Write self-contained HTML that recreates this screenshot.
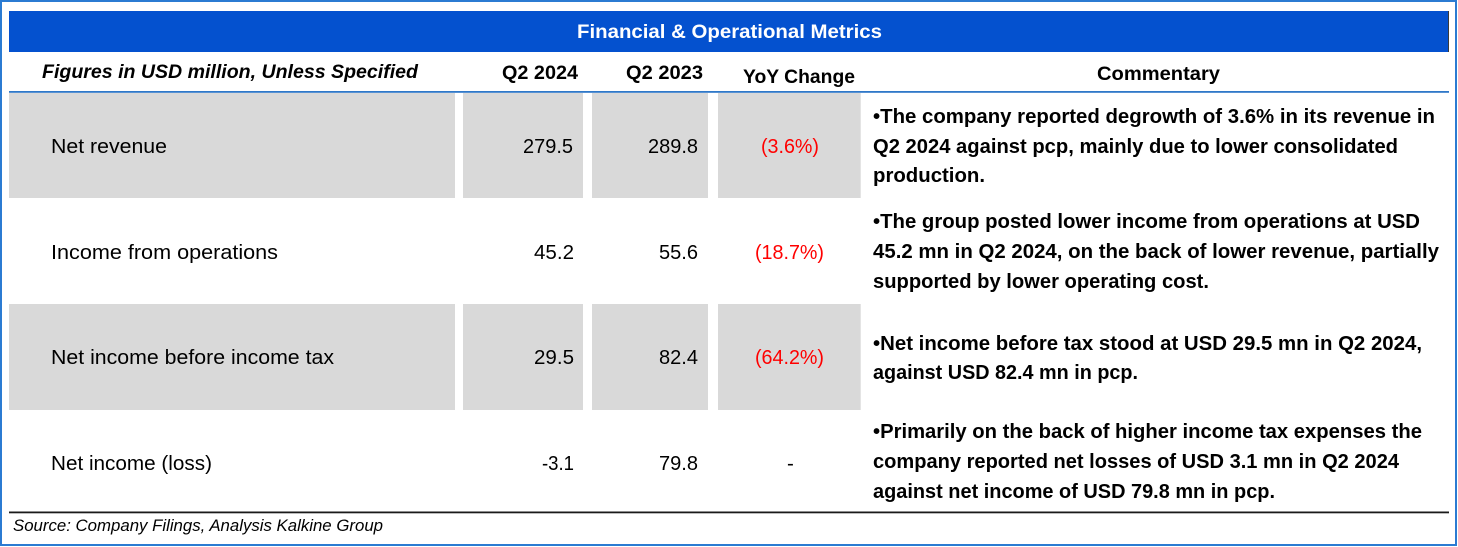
<!DOCTYPE html>
<html>
<head>
<meta charset="utf-8">
<style>
  html, body { margin:0; padding:0; background:#ffffff; }
  body { width:1458px; height:547px; overflow:hidden; }
  svg { display:block; }
  text { font-family: "Liberation Sans", sans-serif; }
  .lbl { font-size:20.5px; fill:#000; }
  .val { font-size:20.5px; fill:#000; }
  .red { font-size:20.5px; fill:#ff0000; }
  .hdr { font-size:19.5px; font-weight:bold; fill:#000; }
  .com { font-size:20px; font-weight:bold; fill:#000; }
</style>
</head>
<body>
<svg width="1458" height="547" viewBox="0 0 1458 547" xmlns="http://www.w3.org/2000/svg">
  <rect x="0" y="0" width="1458" height="547" fill="#ffffff"/>
  <!-- outer border -->
  <rect x="1" y="1" width="1455" height="544" fill="none" stroke="#2b7bd2" stroke-width="2"/>

  <!-- title bar -->
  <rect x="9" y="11" width="1440" height="41" fill="#0451cf"/>
  <rect x="1448" y="11" width="1" height="41" fill="#3a3a3a"/>
  <text x="577" y="38" textLength="305" lengthAdjust="spacingAndGlyphs" style="font-size:19.5px;font-weight:bold;fill:#ffffff;">Financial &amp; Operational Metrics</text>

  <!-- header row -->
  <text x="42" y="78" textLength="376" lengthAdjust="spacingAndGlyphs" style="font-size:19.5px;font-weight:bold;font-style:italic;fill:#000;">Figures in USD million, Unless Specified</text>
  <text class="hdr" x="502" y="79" textLength="76" lengthAdjust="spacingAndGlyphs">Q2 2024</text>
  <text class="hdr" x="626" y="79" textLength="77" lengthAdjust="spacingAndGlyphs">Q2 2023</text>
  <text class="hdr" x="743" y="83" textLength="112" lengthAdjust="spacingAndGlyphs">YoY Change</text>
  <text class="hdr" x="1097" y="80" textLength="123" lengthAdjust="spacingAndGlyphs">Commentary</text>

  <!-- header line -->
  <rect x="9" y="91" width="1440" height="1.8" fill="#2f78c8"/>

  <!-- gray rows -->
  <g fill="#d9d9d9">
    <rect x="9" y="93" width="446" height="105"/>
    <rect x="463" y="93" width="120" height="105"/>
    <rect x="592" y="93" width="116" height="105"/>
    <rect x="718" y="93" width="142" height="105"/>
    <rect x="9" y="304" width="446" height="106"/>
    <rect x="463" y="304" width="120" height="106"/>
    <rect x="592" y="304" width="116" height="106"/>
    <rect x="718" y="304" width="142" height="106"/>
  </g>
  <rect x="860" y="93" width="1" height="105" fill="#e4e4e4"/>
  <rect x="860" y="304" width="1" height="106" fill="#e4e4e4"/>

  <!-- row 1 -->
  <text class="lbl" x="51" y="153" textLength="116" lengthAdjust="spacingAndGlyphs">Net revenue</text>
  <text class="val" x="523" y="153" textLength="50" lengthAdjust="spacingAndGlyphs">279.5</text>
  <text class="val" x="648" y="153" textLength="50" lengthAdjust="spacingAndGlyphs">289.8</text>
  <text class="red" x="761" y="153" textLength="58" lengthAdjust="spacingAndGlyphs">(3.6%)</text>

  <!-- row 2 -->
  <text class="lbl" x="51" y="259" textLength="227" lengthAdjust="spacingAndGlyphs">Income from operations</text>
  <text class="val" x="534" y="259" textLength="40" lengthAdjust="spacingAndGlyphs">45.2</text>
  <text class="val" x="659" y="259" textLength="39" lengthAdjust="spacingAndGlyphs">55.6</text>
  <text class="red" x="755" y="259" textLength="69" lengthAdjust="spacingAndGlyphs">(18.7%)</text>

  <!-- row 3 -->
  <text class="lbl" x="51" y="364" textLength="283" lengthAdjust="spacingAndGlyphs">Net income before income tax</text>
  <text class="val" x="534" y="364" textLength="40" lengthAdjust="spacingAndGlyphs">29.5</text>
  <text class="val" x="659" y="364" textLength="39" lengthAdjust="spacingAndGlyphs">82.4</text>
  <text class="red" x="755" y="364" textLength="69" lengthAdjust="spacingAndGlyphs">(64.2%)</text>

  <!-- row 4 -->
  <text class="lbl" x="51" y="470" textLength="161" lengthAdjust="spacingAndGlyphs">Net income (loss)</text>
  <text class="val" x="542" y="470" textLength="32" lengthAdjust="spacingAndGlyphs">-3.1</text>
  <text class="val" x="659" y="470" textLength="39" lengthAdjust="spacingAndGlyphs">79.8</text>
  <text class="val" x="787" y="470">-</text>

  <!-- commentary -->
  <text class="com" x="873" y="123" textLength="562" lengthAdjust="spacingAndGlyphs">•The company reported degrowth of 3.6% in its revenue in</text>
  <text class="com" x="873" y="153" textLength="525" lengthAdjust="spacingAndGlyphs">Q2 2024 against pcp, mainly due to lower consolidated</text>
  <text class="com" x="873" y="182" textLength="112" lengthAdjust="spacingAndGlyphs">production.</text>

  <text class="com" x="873" y="228" textLength="547" lengthAdjust="spacingAndGlyphs">•The group posted lower income from operations at USD</text>
  <text class="com" x="873" y="258" textLength="566" lengthAdjust="spacingAndGlyphs">45.2 mn in Q2 2024, on the back of lower revenue, partially</text>
  <text class="com" x="873" y="288" textLength="336" lengthAdjust="spacingAndGlyphs">supported by lower operating cost.</text>

  <text class="com" x="873" y="350" textLength="549" lengthAdjust="spacingAndGlyphs">•Net income before tax stood at USD 29.5 mn in Q2 2024,</text>
  <text class="com" x="873" y="379" textLength="265" lengthAdjust="spacingAndGlyphs">against USD 82.4 mn in pcp.</text>

  <text class="com" x="873" y="438" textLength="549" lengthAdjust="spacingAndGlyphs">•Primarily on the back of higher income tax expenses the</text>
  <text class="com" x="873" y="468" textLength="526" lengthAdjust="spacingAndGlyphs">company reported net losses of USD 3.1 mn in Q2 2024</text>
  <text class="com" x="873" y="498" textLength="402" lengthAdjust="spacingAndGlyphs">against net income of USD 79.8 mn in pcp.</text>

  <!-- bottom rule -->
  <rect x="9" y="511.5" width="1440" height="1.8" fill="#1a1a1a"/>

  <!-- source -->
  <text x="13" y="531" textLength="370" lengthAdjust="spacingAndGlyphs" style="font-size:16.5px;font-style:italic;fill:#000;">Source: Company Filings, Analysis Kalkine Group</text>
</svg>
</body>
</html>
